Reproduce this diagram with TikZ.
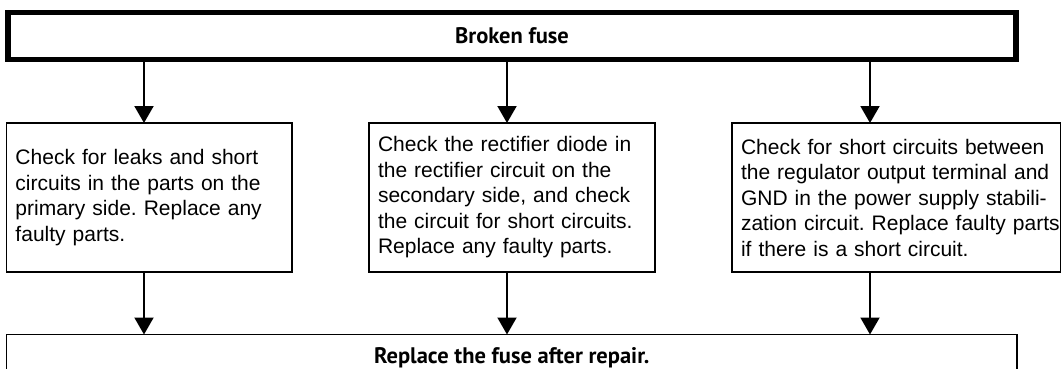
\documentclass[tikz,border=0pt]{standalone}
\usepackage{fontspec}
\setmainfont{Liberation Sans}
\newfontfamily\headfont{PT Sans}
\usetikzlibrary{arrows.meta, positioning}
\frenchspacing

\begin{document}
\begin{tikzpicture}[
  x=1pt, y=1pt,
  fusebox/.style={draw, line width=5.5pt, minimum width=1008pt,
                  minimum height=47pt, inner sep=0pt, align=center,
                  font=\headfont\bfseries\fontsize{22.5}{26}\selectfont},
  donebox/.style={draw, line width=1.5pt, minimum width=1010.5pt,
                  minimum height=47pt, inner sep=0pt, align=center,
                  outer sep=0pt, anchor=north west,
                  font=\headfont\bfseries\fontsize{22.5}{26}\selectfont},
  checkbox/.style={draw, line width=1.5pt, minimum height=149pt,
                   inner xsep=9pt, inner ysep=0pt, outer sep=0pt,
                   anchor=north west, align=left,
                   font=\fontsize{21}{25.5}\selectfont},
  arr/.style={-{Triangle[length=17pt, width=19pt]}, line width=2pt},
]
\useasboundingbox (0,0) rectangle (1062,-369);

% Fuse (top)
\node[fusebox] (fuse) at (512,-36) {Broken fuse};

% Checks (middle)
\node[checkbox, text width=267.5pt] (prim) at (6.5,-123)
  {Check for leaks and short\\circuits in the parts on the\\primary side. Replace any\\faulty parts.};
\node[checkbox, text width=268pt] (sec) at (369,-123)
  {Check the rectifier diode in\\the rectifier circuit on the\\secondary side, and check\\the circuit for short circuits.\\Replace any faulty parts.};
\node[checkbox, text width=310.5pt] (reg) at (732,-123)
  {Check for short circuits between\\the regulator output terminal and\\GND in the power supply stabili-\\\mbox{zation circuit. Replace faulty parts}\\if there is a short circuit.};

% Repair (bottom)
\node[donebox] (done) at (6.5,-334.5) {Replace the fuse after repair.};

% Arrow columns
\coordinate (col1) at (144,0);
\coordinate (col2) at (507,0);
\coordinate (col3) at (870,0);

% Arrows fuse -> checks
\draw[arr] (fuse.south -| col1) -- (prim.north -| col1);
\draw[arr] (fuse.south -| col2) -- (sec.north -| col2);
\draw[arr] (fuse.south -| col3) -- (reg.north -| col3);

% Arrows checks -> repair
\draw[arr] (prim.south -| col1) -- (done.north -| col1);
\draw[arr] (sec.south -| col2) -- (done.north -| col2);
\draw[arr] (reg.south -| col3) -- (done.north -| col3);

\end{tikzpicture}
\end{document}
